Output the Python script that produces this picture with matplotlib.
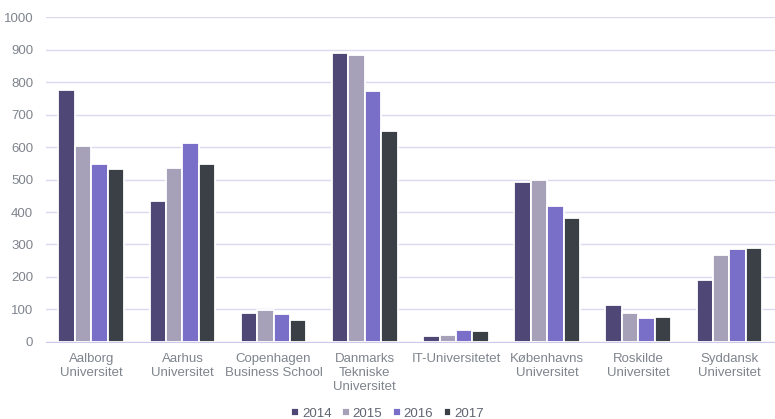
import matplotlib.pyplot as plt
import numpy as np

plt.rcParams['font.family'] = ['Liberation Sans', 'DejaVu Sans']

universities = ['Aalborg\nUniversitet', 'Aarhus\nUniversitet', 'Copenhagen\nBusiness School',
                'Danmarks\nTekniske\nUniversitet', 'IT-Universitetet', 'Københavns\nUniversitet',
                'Roskilde\nUniversitet', 'Syddansk\nUniversitet']
years = ['2014', '2015', '2016', '2017']
v2014 = [777, 434, 88, 891, 17, 492, 114, 191]
v2015 = [603, 535, 97, 882, 22, 498, 88, 268]
v2016 = [548, 611, 85, 772, 37, 418, 74, 285]
v2017 = [531, 548, 66, 648, 34, 382, 77, 288]
colors = ['#4f4775', '#a6a1b9', '#7a6fc8', '#3b3f46']

fig = plt.figure(figsize=(7.75, 4.19), dpi=100)
ax = fig.add_axes([0.059, 0.184, 0.941, 0.775])

x = np.arange(len(universities))
w = 0.18
series = [v2014, v2015, v2016, v2017]
for i, vals in enumerate(series):
    ax.bar(x + (i - 1.5) * w, vals, width=w, color=colors[i], edgecolor='white',
           linewidth=1.3, label=years[i], zorder=3)

ax.set_xlim(-0.5, len(universities) - 0.5)
ax.set_ylim(0, 1000)
ax.set_yticks(range(0, 1001, 100))
ax.yaxis.grid(True, color='#dcd8f0', linewidth=1, zorder=0)
ax.set_axisbelow(True)
for s in ['top', 'right', 'left']:
    ax.spines[s].set_visible(False)
ax.spines['bottom'].set_color('#cfc9ec')
ax.tick_params(axis='both', length=0, colors='#7f848d', labelsize=9.5)
ax.tick_params(axis='y', pad=9)
ax.tick_params(axis='x', pad=8)
ax.set_xticks(x)
ax.set_xticklabels(universities, fontsize=9.5, color='#7f848d', linespacing=1.2)

leg = fig.legend(loc='lower center', bbox_to_anchor=(0.5, -0.03), ncol=4, frameon=False,
                 fontsize=9.5, handlelength=0.6, handleheight=0.6, handletextpad=0.2,
                 columnspacing=0.8)
for t in leg.get_texts():
    t.set_color('#5f6470')

fig.savefig('out.png', dpi=100, facecolor='white')
